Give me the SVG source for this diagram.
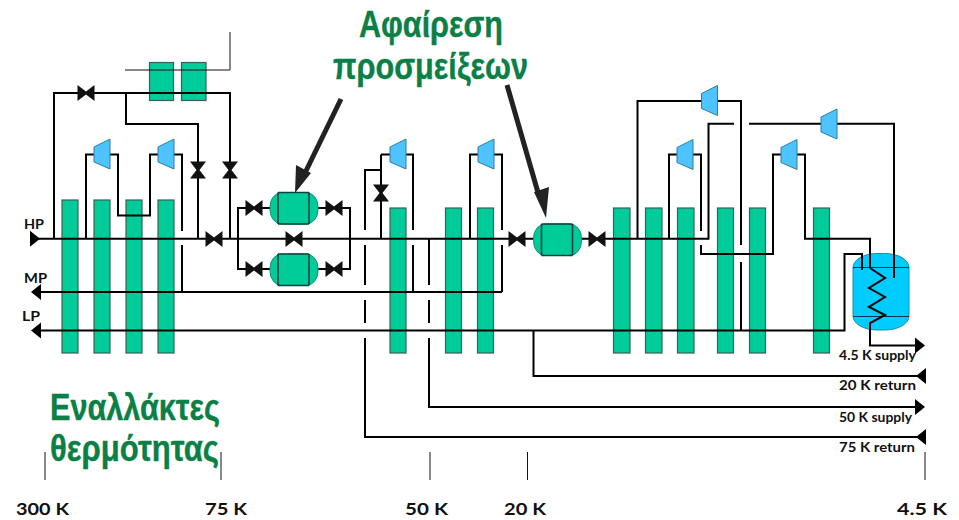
<svg xmlns="http://www.w3.org/2000/svg" width="959" height="520" viewBox="0 0 959 520">
<style>
.hx{fill:#00cc99;stroke:#3a5f55;stroke-width:1.200}
.ln{fill:none;stroke:#000;stroke-width:2}
.thin{fill:none;stroke:#111;stroke-width:1}
.tur{fill:#4dc3ff;stroke:#2e7f9e;stroke-width:1}
.ves{fill:#00cc99;stroke:#1a8f78;stroke-width:1}
.vi{fill:none;stroke:#044;stroke-width:1.600}
.sm{font-family:"Lato","Liberation Sans",sans-serif;font-weight:700;fill:#111}
.gr{font-family:"Liberation Sans",sans-serif;font-weight:700;fill:#0a7f46;stroke:#0a7f46;stroke-width:.4}
.ptr{fill:none;stroke:#222;stroke-width:5}
</style>
<defs>
<polygon id="valve" points="-8.500,-8 0,-1.500 8.500,-8 8.500,8 0,1.500 -8.500,8" fill="#111"/>
<polygon id="ar" points="-5,-8 5,0 -5,8" fill="#000"/>
<polygon id="al" points="5,-8 -5,0 5,8" fill="#000"/>
<polygon id="turb" points="0,8 16,0 16,30 0,23" class="tur"/>
<g id="vessel"><rect x="0" y="0" width="48" height="31.500" rx="12" ry="14" class="ves"/><path d="M8,0V31.500M39,0V31.500M8,0H39M8,31.500H39" class="vi"/></g>
</defs>
<g id="hx-bars">
<g id="hx1"><rect class="hx" x="62" y="200" width="16" height="153"/></g>
<g id="hx2"><rect class="hx" x="94" y="200" width="16" height="153"/></g>
<g id="hx3"><rect class="hx" x="126" y="200" width="16" height="153"/></g>
<g id="hx4"><rect class="hx" x="158" y="200" width="16" height="153"/></g>
<g id="hx-top1"><rect class="hx" x="149.500" y="62.500" width="24" height="38"/></g>
<g id="hx-top2"><rect class="hx" x="181.500" y="62.500" width="24.500" height="38"/></g>
<g id="hx5"><rect class="hx" x="390" y="208" width="16" height="145"/></g>
<g id="hx6"><rect class="hx" x="445.500" y="208" width="16" height="145"/></g>
<g id="hx7"><rect class="hx" x="477.500" y="208" width="16" height="145"/></g>
<g id="hx8"><rect class="hx" x="613.500" y="208" width="16.500" height="145"/></g>
<g id="hx9"><rect class="hx" x="645.500" y="208" width="16.500" height="145"/></g>
<g id="hx10"><rect class="hx" x="677.500" y="208" width="16.500" height="145"/></g>
<g id="hx11"><rect class="hx" x="717.500" y="208" width="16" height="145"/></g>
<g id="hx12"><rect class="hx" x="749.500" y="208" width="16" height="145"/></g>
<g id="hx13"><rect class="hx" x="813.500" y="208" width="16" height="145"/></g>
</g>
<g id="helium-bath"><rect x="853" y="253.500" width="56" height="76.500" rx="24" ry="14" fill="#00ccff" stroke="#1a8fa8" stroke-width="1"/><path d="M853,267.500H909M853,316.500H909" stroke="#035" stroke-width="1.200" fill="none"/></g>
<g id="connectors">
<path class="thin" d="M125,70H230V32"/>
<path class="ln" d="M34,238.700H597M597,238.700H708.500V123.700H734M749,123.700H894V278"/>
<path class="ln" d="M38,292H502M38,330.600H844.500V254H862V270"/>
<path class="ln" d="M54,239V93H230V239M126,93V124H198V239"/>
<path class="ln" d="M86,239V154.500H118V215.500H150V154.500H182V231M182,245V292"/>
<path class="ln" d="M238,239V208H350V269H238V239"/>
<path class="ln" d="M365,230V170H381M381,154.500V239M381,154.500H413V230M413,245V292"/>
<path class="ln" d="M365,245V285M365,300V323M365,338V437H920"/>
<path class="ln" d="M429,239V285M429,300V323M429,338V407H918"/>
<path class="ln" d="M470,239V154.500H502V230M502,245V292"/>
<path class="ln" d="M533.500,330.600V376H920"/>
<path class="ln" d="M637.500,239V101H741V245M741,262V330.600"/>
<path class="ln" d="M669,239V154.500H701V231M701,245V254H773V154.500H805V238.700H870V268"/>
<path class="ln" d="M870,268L885,278L869,288L885,297L869,307L885,315L870,323V345.500H918"/>
<g class="thin"><path d="M45,452V480M221,452V480M430,452V480M527.500,452V480M925,452V480"/></g>
<path class="ptr" d="M341,99L304,175"/><polygon points="295,193 296,165 311,173" fill="#222"/>
<path class="ptr" d="M507,85L539,196"/><polygon points="546,218 534,192 549,187" fill="#222"/>
<use href="#ar" x="35" y="238.700"/><use href="#al" x="36" y="292"/><use href="#al" x="36" y="330.600"/>
<use href="#ar" x="920" y="345.500"/><use href="#al" x="921" y="376"/><use href="#ar" x="920" y="407"/><use href="#al" x="921" y="437"/>
</g>
<g id="valves">
<use href="#valve" x="86" y="93"/><use href="#valve" x="214" y="239"/><use href="#valve" x="254" y="208"/><use href="#valve" x="334" y="208"/>
<use href="#valve" x="294" y="239"/><use href="#valve" x="254" y="269"/><use href="#valve" x="334" y="269"/><use href="#valve" x="517" y="239"/><use href="#valve" x="597" y="239"/>
<use href="#valve" transform="translate(198,170) rotate(90)"/><use href="#valve" transform="translate(230,170) rotate(90)"/><use href="#valve" transform="translate(381,193) rotate(90)"/>
</g>
<g id="turbines">
<use href="#turb" x="94" y="139"/><use href="#turb" x="158" y="139"/><use href="#turb" x="390" y="139"/><use href="#turb" x="478" y="139"/>
<use href="#turb" x="677" y="139.500"/><use href="#turb" x="781" y="139.500"/><use href="#turb" x="701.500" y="85.500"/><use href="#turb" x="821" y="109"/>
</g>
<g id="vessels">
<use href="#vessel" x="270" y="192.500"/><use href="#vessel" x="270" y="254"/><use href="#vessel" x="533.500" y="224"/>
</g>
<g id="labels">
<text class="sm" x="24" y="229" font-size="14" textLength="20" lengthAdjust="spacingAndGlyphs">HP</text>
<text class="sm" x="24" y="283" font-size="14" textLength="23" lengthAdjust="spacingAndGlyphs">MP</text>
<text class="sm" x="22" y="321" font-size="14" textLength="18" lengthAdjust="spacingAndGlyphs">LP</text>
<text class="sm" x="839" y="360" font-size="13" textLength="77" lengthAdjust="spacingAndGlyphs">4.5 K supply</text>
<text class="sm" x="839" y="390" font-size="13" textLength="77" lengthAdjust="spacingAndGlyphs">20 K return</text>
<text class="sm" x="839" y="422" font-size="13" textLength="73" lengthAdjust="spacingAndGlyphs">50 K supply</text>
<text class="sm" x="839" y="452" font-size="13" textLength="76" lengthAdjust="spacingAndGlyphs">75 K return</text>
<text class="sm" x="16" y="515" font-size="17" textLength="53" lengthAdjust="spacingAndGlyphs">300 K</text>
<text class="sm" x="205" y="515" font-size="17" textLength="42" lengthAdjust="spacingAndGlyphs">75 K</text>
<text class="sm" x="405" y="515" font-size="17" textLength="43" lengthAdjust="spacingAndGlyphs">50 K</text>
<text class="sm" x="504" y="515" font-size="17" textLength="42" lengthAdjust="spacingAndGlyphs">20 K</text>
<text class="sm" x="897" y="515" font-size="17" textLength="50" lengthAdjust="spacingAndGlyphs">4.5 K</text>
<text class="gr" x="359" y="37" font-size="37" textLength="144" lengthAdjust="spacingAndGlyphs">Αφαίρεση</text>
<text class="gr" x="333" y="79" font-size="37" textLength="195" lengthAdjust="spacingAndGlyphs">προσμείξεων</text>
<text class="gr" x="50" y="420" font-size="37" textLength="170" lengthAdjust="spacingAndGlyphs">Εναλλάκτες</text>
<text class="gr" x="50" y="461" font-size="37" textLength="169" lengthAdjust="spacingAndGlyphs">θερμότητας</text>
</g>
</svg>
